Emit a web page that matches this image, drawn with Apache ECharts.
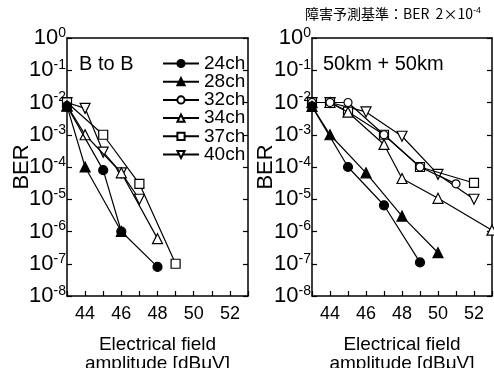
<!DOCTYPE html>
<html>
<head>
<meta charset="utf-8">
<script src="https://cdn.jsdelivr.net/npm/echarts@6/dist/echarts.min.js"></script>
<style>
  html, body { margin: 0; padding: 0; background: #fff; }
  #chart { width: 494px; height: 368px; }
</style>
</head>
<body>
<div id="chart"></div>
<script>
// x: electrical field amplitude [dBuV], y: BER
let channels = ['24ch', '28ch', '32ch', '34ch', '37ch', '40ch'];
let xTicks = [44, 46, 48, 50, 52];

// B to B
let bb24 = [[43, 7.7e-3], [45, 8e-5], [46, 1e-6], [48, 8e-8]];
let bb28 = [[43, 7.7e-3], [44, 1e-4], [46, 1e-6]];
let bb32 = [];
let bb34 = [[43, 8e-3], [44, 1e-3], [46, 6.6e-5], [48, 6e-7]];
let bb37 = [[43, 1e-2], [45, 1e-3], [47, 3e-5], [49, 1e-7]];
let bb40 = [[43, 1e-2], [44, 6.6e-3], [45, 2.9e-4], [46, 6.6e-5], [47, 1e-5]];

// 50km + 50km
let km24 = [[43, 7.6e-3], [45, 1e-4], [47, 6.5e-6], [49, 1.1e-7]];
let km28 = [[43, 7.6e-3], [44, 1e-3], [46, 6.6e-5], [48, 3e-6], [50, 2.2e-7]];
let km32 = [[43, 1e-2], [44, 1e-2], [45, 1e-2], [47, 1e-3], [49, 1e-4], [51, 3e-5]];
let km34 = [[43, 1e-2], [44, 1e-2], [45, 5e-3], [47, 5e-4], [48, 4.4e-5], [50, 1.07e-5], [53, 1.1e-6]];
let km37 = [[43, 1e-2], [44, 1e-2], [45, 5.2e-3], [47, 1e-3], [49, 1e-4], [52, 3.2e-5]];
let km40 = [[43, 1e-2], [44, 1e-2], [46, 5.1e-3], [48, 9e-4], [50, 5.9e-5], [52, 1e-5]];

let panelData = [
    [bb24, bb28, bb32, bb34, bb37, bb40],
    [km24, km28, km32, km34, km37, km40]
];

let invTri = 'path://M0,0 L10,0 L5,8.66 Z';
let symbols = ['circle', 'triangle', 'circle', 'triangle', 'rect', invTri];
let sizes = [9, 10, 8, 10, 9, 10];
let filled = [true, true, false, false, false, false];

let font = 'Liberation Sans, Arial, sans-serif';

function expLabel(v) {
    let n = Math.round(Math.log10(v));
    return '{b|10}{s|' + (n === 0 ? '0' : '-' + Math.abs(n)) + '}';
}

let grids = [
    {left: 67, top: 38, width: 181, height: 258, outerBoundsMode: 'none', containLabel: false},
    {left: 312, top: 38, width: 180, height: 258, outerBoundsMode: 'none', containLabel: false}
];
let nameGaps = [34, 35];

let xAxes = [];
let yAxes = [];
let series = [];

grids.forEach((g, gi) => {
    xAxes.push({
        type: 'value', gridIndex: gi, min: 43, max: 53, interval: 1,
        name: 'Electrical field\namplitude [dBμV]',
        nameLocation: 'middle', nameGap: 39, nameMoveOverlap: false,
        nameTextStyle: {fontFamily: font, fontSize: 19, color: '#000', lineHeight: 19},
        axisLine: {lineStyle: {color: '#000', width: 1.5}},
        axisTick: {inside: true, length: 5, lineStyle: {color: '#000', width: 1.2}},
        axisLabel: {
            fontFamily: font, fontSize: 18, color: '#000', margin: 9,
            formatter: v => xTicks.indexOf(v) >= 0 ? String(v) : ''
        },
        splitLine: {show: false}
    });
    xAxes.push({
        type: 'value', gridIndex: gi, min: 43, max: 53, position: 'top',
        axisLine: {lineStyle: {color: '#000', width: 1.5}},
        axisTick: {show: false}, axisLabel: {show: false}, splitLine: {show: false}
    });
    yAxes.push({
        type: 'log', gridIndex: gi, min: 1e-8, max: 1, logBase: 10,
        name: 'BER', nameLocation: 'middle', nameGap: nameGaps[gi], nameMoveOverlap: false,
        nameTextStyle: {fontFamily: font, fontSize: 22, color: '#000'},
        axisLine: {show: true, lineStyle: {color: '#000', width: 1.5}},
        axisTick: {inside: true, length: 5, lineStyle: {color: '#000', width: 1.2}},
        minorTick: {show: false},
        axisLabel: {
            margin: 1, formatter: expLabel,
            rich: {
                b: {fontFamily: font, fontSize: 22, color: '#000', lineHeight: 24},
                s: {fontFamily: font, fontSize: 14, color: '#000', verticalAlign: 'top', lineHeight: 24, padding: [0, 0, 12, 0]}
            }
        },
        splitLine: {show: false}
    });
    yAxes.push({
        type: 'log', gridIndex: gi, min: 1e-8, max: 1, logBase: 10, position: 'right',
        axisLine: {show: true, lineStyle: {color: '#000', width: 1.5}},
        axisTick: {inside: true, length: 5, lineStyle: {color: '#000', width: 1.2}},
        axisLabel: {show: false}, splitLine: {show: false}
    });

    channels.forEach((ch, i) => {
        series.push({
            name: ch, type: 'line',
            xAxisIndex: gi * 2, yAxisIndex: gi * 2,
            data: panelData[gi][i],
            symbol: symbols[i], symbolSize: sizes[i],
            showAllSymbol: true,
            lineStyle: {color: '#000', width: 1.2},
            itemStyle: {color: filled[i] ? '#000' : '#fff', borderColor: '#000', borderWidth: 1.2},
            z: 10 - i,
            clip: false,
            animation: false
        });
    });
});

let chart = echarts.init(document.getElementById('chart'));
chart.setOption({
    backgroundColor: '#fff',
    animation: false,
    grid: grids,
    xAxis: xAxes,
    yAxis: yAxes,
    title: [
        {text: 'B to B', left: 74, top: 49, textStyle: {fontFamily: font, fontSize: 20, fontWeight: 'normal', color: '#000'}},
        {text: '50km + 50km', left: 318, top: 49, textStyle: {fontFamily: font, fontSize: 20, fontWeight: 'normal', color: '#000'}}
    ],
    legend: {
        data: channels, orient: 'vertical', left: 162, top: 54, padding: 0,
        itemWidth: 36, itemHeight: 9, itemGap: -0.8,
        textStyle: {fontFamily: font, fontSize: 19, color: '#000', lineHeight: 18}
    },
    graphic: [{
        type: 'text', left: 305, top: 6,
        style: {
            text: '{a|障害予測基準：BER  2×10}{e|-4}',
            rich: {
                a: {fontFamily: 'Noto Sans CJK JP, sans-serif', fontSize: 14, fill: '#000', lineHeight: 16},
                e: {fontFamily: font, fontSize: 9, fill: '#000', verticalAlign: 'top', lineHeight: 16, padding: [0, 0, 6, 0]}
            }
        }
    }],
    series: series
});
</script>
</body>
</html>
